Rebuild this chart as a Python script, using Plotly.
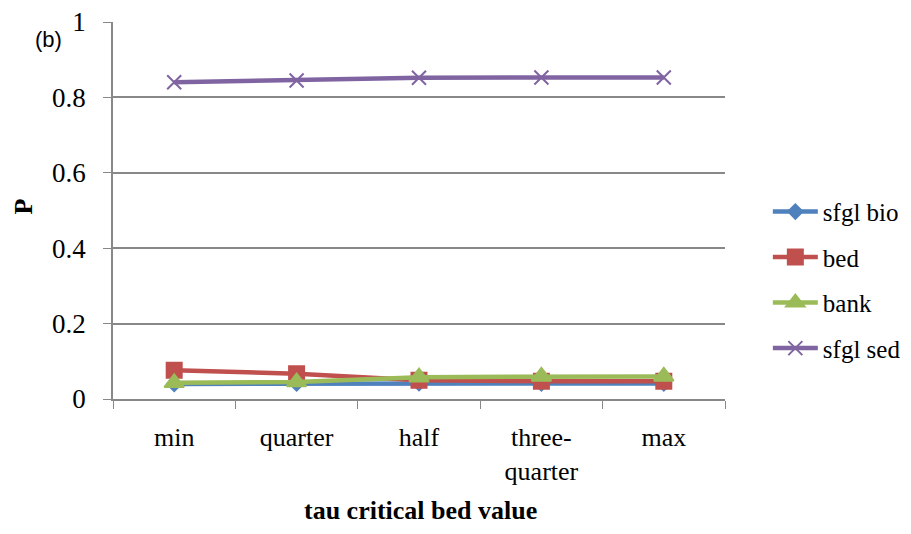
import plotly.graph_objects as go

categories = ["min", "quarter", "half", "three-<br>quarter", "max"]
sfgl_bio = [0.040, 0.041, 0.042, 0.041, 0.041]
bed = [0.076, 0.067, 0.050, 0.047, 0.047]
bank = [0.043, 0.045, 0.058, 0.060, 0.060]
sfgl_sed = [0.840, 0.845, 0.852, 0.853, 0.853]
y_ticks = [0, 0.2, 0.4, 0.6, 0.8, 1]
y_tick_labels = ["0", "0.2", "0.4", "0.6", "0.8", "1"]

series = [
    ("sfgl bio", sfgl_bio, "#4F81BD", "diamond", 11),
    ("bed", bed, "#C0504D", "square", 15),
    ("bank", bank, "#9BBB59", "triangle-up", 17),
    ("sfgl sed", sfgl_sed, "#8064A2", "x-thin", 14),
]

serif = "Liberation Serif"

fig = go.Figure()
for name, vals, color, symbol, size in series:
    fig.add_trace(go.Scatter(
        x=categories, y=vals, name=name, legendgroup=name,
        mode="lines+markers",
        line=dict(color=color, width=4.5),
        marker=dict(symbol=symbol, size=size, color=color,
                    line=dict(color=color, width=2)),
    ))

# page body has an 8px margin, so the figure is a bit smaller than the window
fig.update_layout(
    width=895, height=518,
    margin=dict(l=105, r=178, t=14, b=127, autoexpand=False),
    paper_bgcolor="white", plot_bgcolor="white",
    font=dict(family=serif, size=26, color="black"),
    legend=dict(x=1.07, xanchor="left", y=0.316, yanchor="middle",
                itemwidth=45, tracegroupgap=10, font=dict(size=25, family=serif)),
    annotations=[
        dict(text="(b)", xref="paper", yref="paper", x=-0.106, y=0.953,
             xanchor="center", yanchor="middle", showarrow=False,
             font=dict(family="Liberation Sans", size=22)),
        # axis titles placed by hand (standoff is ignored without automargin)
        dict(text="<b>P</b>", xref="paper", yref="paper", x=-0.146, y=0.51,
             xanchor="center", yanchor="middle", textangle=-90, showarrow=False,
             font=dict(family=serif, size=26)),
        dict(text="<b>tau critical bed value</b>", xref="paper", yref="paper",
             x=0.502, y=-0.297, xanchor="center", yanchor="middle", showarrow=False,
             font=dict(family=serif, size=26)),
    ],
)

fig.update_xaxes(
    type="category", range=[-0.5, 4.5], tickson="boundaries",
    ticks="outside", ticklen=8, tickcolor="#888", showline=True, linecolor="#888",
    linewidth=1.5, showgrid=False, ticklabelstandoff=14,
    tickfont=dict(size=26, family=serif),
)
fig.update_yaxes(
    range=[0, 1], tickvals=y_ticks, ticktext=y_tick_labels,
    ticklabeloverflow="allow",
    ticks="outside", ticklen=8, tickcolor="#888", showline=True, linecolor="#888",
    linewidth=1.5, showgrid=True, gridcolor="#888", gridwidth=1.5,
    ticklabelstandoff=12, zeroline=False,
    tickfont=dict(size=27, family=serif),
)

fig.write_html("out.html")
